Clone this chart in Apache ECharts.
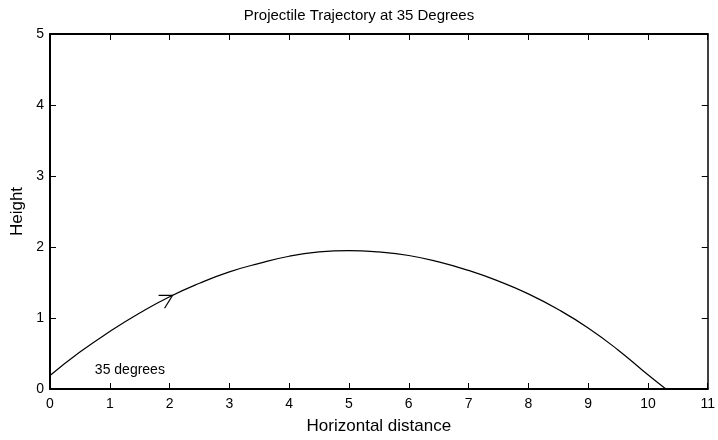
<!DOCTYPE html>
<html lang="en">
<head>
    <meta charset="utf-8"/>
    <title>Projectile Trajectory</title>
    <script src="https://cdn.jsdelivr.net/npm/echarts@6/dist/echarts.min.js"></script>
    <style>
        body { margin: 0; background: #fff; }
        #main { width: 718px; height: 440px; }
    </style>
</head>
<body>
<div id="main"></div>
<script>
    // trajectory
    var xData = [0, 0.5, 1, 1.5, 2, 2.5, 3, 3.5, 4, 4.5, 5, 5.5, 6, 6.5, 7, 7.5, 8, 8.5, 9, 9.5, 10, 10.3];
    var yData = [0.19, 0.52, 0.81, 1.07, 1.30, 1.49, 1.65, 1.77, 1.87, 1.93, 1.95, 1.93, 1.88, 1.79, 1.67, 1.52, 1.34, 1.12, 0.86, 0.55, 0.20, 0];
    // arrow tip and note
    var arrowAt = [2.05, 1.32];
    var noteAt = [0.75, 0.26];
    var noteText = '35 degrees';

    var pts = [];
    for (var i = 0; i < xData.length; i++) {
        pts.push([xData[i], yData[i]]);
    }

    var font = 'Liberation Sans, Arial, sans-serif';
    var myChart = echarts.init(document.getElementById('main'));

    var axisLine = {show: true, onZero: false, lineStyle: {color: '#000', width: 2}};
    var tick = {show: true, inside: true, length: 6, lineStyle: {color: '#000', width: 1}};

    var option = {
        animation: false,
        title: {
            text: 'Projectile Trajectory at 35 Degrees',
            left: 'center',
            top: 3,
            textStyle: {fontFamily: font, fontSize: 15, fontWeight: 'normal', color: '#000'}
        },
        grid: {left: 50, right: 6, top: 34, bottom: 51},
        xAxis: [{
            type: 'value', min: 0, max: 11, interval: 1,
            name: 'Horizontal distance', nameLocation: 'middle', nameGap: 29,
            nameTextStyle: {fontFamily: font, fontSize: 17, color: '#000'},
            axisLine: axisLine, axisTick: tick,
            axisLabel: {fontFamily: font, fontSize: 14, color: '#000', margin: 8},
            splitLine: {show: false}
        }, {
            type: 'value', min: 0, max: 11, interval: 1, position: 'top',
            axisLine: axisLine, axisTick: tick, axisLabel: {show: false}, splitLine: {show: false}
        }],
        yAxis: [{
            type: 'value', min: 0, max: 5, interval: 1,
            name: 'Height', nameLocation: 'middle', nameGap: 24,
            nameTextStyle: {fontFamily: font, fontSize: 17, color: '#000'},
            axisLine: axisLine, axisTick: tick,
            axisLabel: {fontFamily: font, fontSize: 14, color: '#000', margin: 6},
            splitLine: {show: false}
        }, {
            type: 'value', min: 0, max: 5, interval: 1, position: 'right',
            axisLine: {show: true, onZero: false, lineStyle: {color: '#000', width: 1.5}},
            axisTick: tick, axisLabel: {show: false}, splitLine: {show: false}
        }],
        series: [{
            type: 'line',
            data: pts,
            smooth: 0.5,
            showSymbol: false,
            lineStyle: {color: '#000', width: 1.2}
        }, {
            type: 'custom',
            data: [arrowAt],
            renderItem: function (params, api) {
                var p = api.coord([api.value(0), api.value(1)]);
                return {
                    type: 'polyline',
                    shape: {points: [[p[0] - 14, p[1]], p, [p[0] - 8, p[1] + 13]]},
                    style: {stroke: '#000', lineWidth: 1.2, fill: null}
                };
            }
        }, {
            type: 'custom',
            data: [noteAt],
            renderItem: function (params, api) {
                var p = api.coord([api.value(0), api.value(1)]);
                return {
                    type: 'text',
                    x: p[0], y: p[1],
                    style: {
                        text: noteText, fill: '#000',
                        font: '14px ' + font,
                        textAlign: 'left', textVerticalAlign: 'middle'
                    }
                };
            }
        }]
    };

    myChart.setOption(option);
</script>
</body>
</html>
